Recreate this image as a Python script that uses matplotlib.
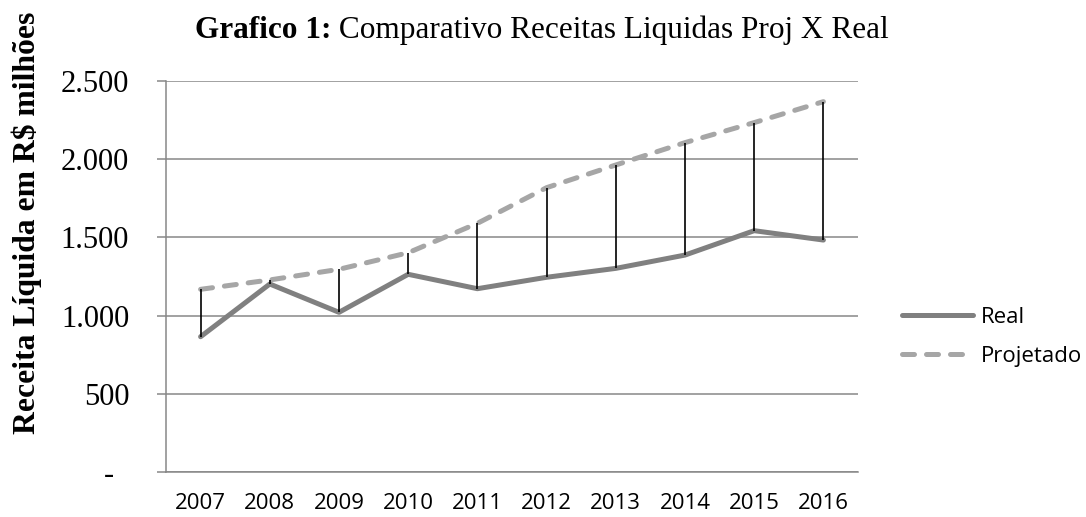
import numpy as np
import matplotlib
matplotlib.use("Agg")
import matplotlib.pyplot as plt
from matplotlib.lines import Line2D

# Dados (R$ milhões)
anos = ["2007", "2008", "2009", "2010", "2011", "2012", "2013", "2014", "2015", "2016"]
real = [865, 1202, 1021, 1264, 1172, 1245, 1302, 1387, 1543, 1483]
projetado = [1168, 1228, 1296, 1402, 1590, 1818, 1963, 2106, 2234, 2368]
yticks = [0, 500, 1000, 1500, 2000, 2500]
ytick_labels = ["-  ", "500", "1.000", "1.500", "2.000", "2.500"]

serif = ["Liberation Serif", "DejaVu Serif"]
sans = ["Open Sans", "DejaVu Sans"]

fig = plt.figure(figsize=(10.86, 5.17), dpi=100)
ax = fig.add_axes([166 / 1086, 1 - 472 / 517, (858 - 166) / 1086, (472 - 81) / 517])

x = np.arange(len(anos))
grid_color = "#878787"

# linhas de diferença
ax.vlines(x, real, projetado, color="black", linewidth=1.2, zorder=4)

ax.plot(x, real, color="#808080", linewidth=3.6, solid_capstyle="round",
        solid_joinstyle="round", zorder=3, label="Real")
ax.plot(x, projetado, color="#A6A6A6", linewidth=3.6, dashes=(2.4, 2.4),
        dash_capstyle="round", zorder=3, label="Projetado")

ax.set_xlim(-0.5, len(anos) - 0.5)
ax.set_ylim(0, 2500)
ax.set_xticks(x)
ax.set_xticklabels(anos, family=sans, fontsize=16)
ax.set_yticks(yticks)
ax.set_yticklabels(ytick_labels, family=serif, fontsize=22)
ax.tick_params(axis="x", length=0, pad=15)
ax.tick_params(axis="y", length=6.5, width=1.1, color=grid_color, pad=20)

ax.grid(axis="y", color=grid_color, linewidth=1.1)
ax.set_axisbelow(True)
for s in ["top", "right"]:
    ax.spines[s].set_visible(False)
for s in ["left", "bottom"]:
    ax.spines[s].set_color(grid_color)
    ax.spines[s].set_linewidth(1.1)

# legenda
handles = [
    Line2D([], [], color="#808080", linewidth=3.6, solid_capstyle="round"),
    Line2D([], [], color="#A6A6A6", linewidth=3.6, dashes=(2.4, 2.4), dash_capstyle="round"),
]
ax.legend(handles, ["Real", "Projetado"], loc="center left",
          bbox_to_anchor=(902 / 1086, 1 - 337 / 517), bbox_transform=fig.transFigure,
          frameon=False, borderpad=0, borderaxespad=0, handlelength=3.2,
          handletextpad=0.35, labelspacing=0.8, prop={"family": sans, "size": 16})

# título
t1 = fig.text(195 / 1086, 1 - 38 / 517, "Grafico 1:", family=serif, fontsize=22.5,
              fontweight="bold", ha="left", va="baseline")
ax.annotate(" Comparativo Receitas Liquidas Proj X Real", xy=(1, 0), xycoords=t1,
            family=serif, fontsize=22.5, ha="left", va="bottom")

fig.text(27 / 1086, 1 - 223 / 517, "Receita Líquida em R$ milhões", family=serif,
         fontsize=22.8, fontweight="bold", rotation=90, ha="center", va="center")

fig.savefig("out.png", dpi=100)
